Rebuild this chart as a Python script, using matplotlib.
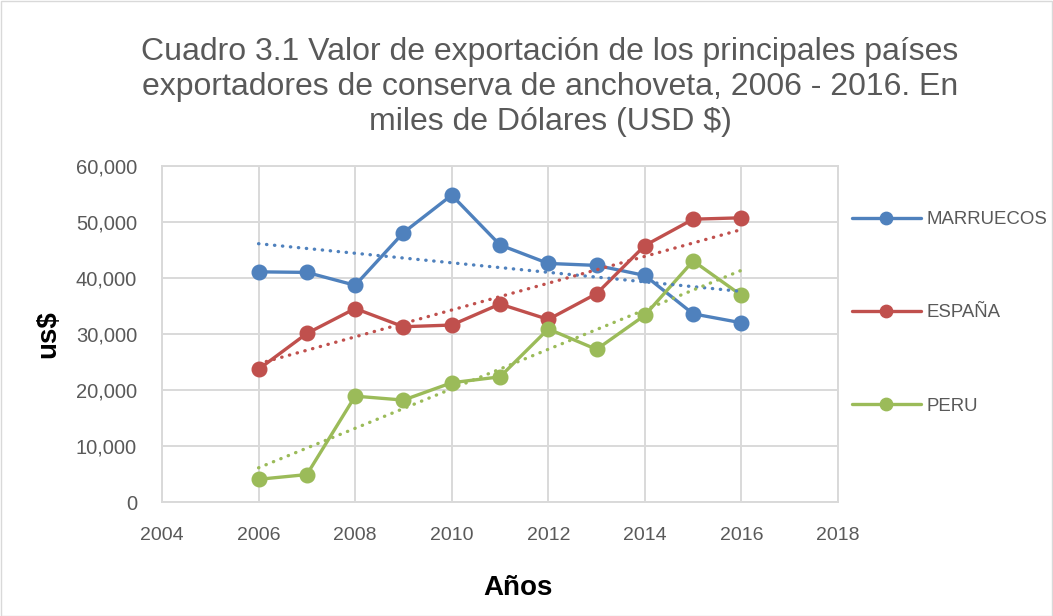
import numpy as np
import matplotlib.pyplot as plt
from matplotlib.patches import Rectangle

# --- data (miles de USD) ---
years = [2006, 2007, 2008, 2009, 2010, 2011, 2012, 2013, 2014, 2015, 2016]
marruecos = [41100, 41000, 38700, 48100, 54800, 45900, 42600, 42250, 40450, 33600, 32000]
espana = [23700, 30100, 34550, 31300, 31600, 35350, 32600, 37200, 45800, 50500, 50750]
peru = [4050, 4900, 18900, 18200, 21300, 22350, 30900, 27250, 33350, 43050, 36900]

series = [
    ("MARRUECOS", marruecos, "#4F81BD"),
    ("ESPAÑA", espana, "#C0504D"),
    ("PERU", peru, "#9BBB59"),
]

x_ticks = [2004, 2006, 2008, 2010, 2012, 2014, 2016, 2018]
y_ticks = [0, 10000, 20000, 30000, 40000, 50000, 60000]

plt.rcParams['font.family'] = ['Liberation Sans', 'DejaVu Sans']
text_col = '#595959'
grid_col = '#D9D9D9'

W, H = 1053, 616
fig = plt.figure(figsize=(W / 100, H / 100), dpi=100)
fig.patch.set_facecolor('white')
fig.add_artist(Rectangle((0.5 / W, 0.5 / H), 1 - 1.5 / W, 1 - 1.5 / H,
                         transform=fig.transFigure, fill=False,
                         edgecolor='#D9D9D9', linewidth=1.0))

# --- plot area (pixel box of the reference) ---
left, right, top, bottom = 162, 838, 166, 502
ax = fig.add_axes([left / W, (H - bottom) / H, (right - left) / W, (bottom - top) / H])

yrs = np.array(years, dtype=float)
for name, vals, col in series:
    ax.plot(years, vals, '-o', color=col, linewidth=2.4, markersize=10.5,
            label=name, zorder=3, solid_capstyle='round')
    # linear trendline, like Excel's
    m, b = np.polyfit(yrs, np.array(vals, dtype=float), 1)
    ax.plot(yrs, m * yrs + b, color=col, linewidth=2.4,
            linestyle=(0, (0.1, 2.3)), dash_capstyle='round', zorder=4)

ax.set_xlim(2004, 2018)
ax.set_ylim(0, 60000)
ax.set_xticks(x_ticks)
ax.set_yticks(y_ticks)
ax.set_yticklabels([f"{v:,}" for v in y_ticks])
ax.grid(True, color=grid_col, linewidth=1.4, zorder=0)
ax.set_axisbelow(True)
for s in ax.spines.values():
    s.set_color(grid_col)
    s.set_linewidth(1.4)
ax.tick_params(length=0, labelcolor=text_col)
ax.tick_params(axis='y', pad=18, labelsize=14.5)
ax.tick_params(axis='x', pad=18, labelsize=14)

# --- axis titles ---
fig.text(518 / W, 1 - 588 / H, 'Años', ha='center', va='center',
         fontsize=20, fontweight='bold', color='black')
fig.text(48.5 / W, 1 - 334 / H, 'us$', ha='center', va='center', rotation=90,
         fontsize=20, fontweight='bold', color='black')

fig.text(550 / W, 1 - 87 / H,
         "Cuadro 3.1 Valor de exportación de los principales países\n"
         "exportadores de conserva de anchoveta, 2006 - 2016. En\n"
         "miles de Dólares (USD $)",
         ha='center', va='center', fontsize=23, color=text_col, linespacing=1.2)

handles, labels = ax.get_legend_handles_labels()
leg = fig.legend(handles, labels, loc='upper left', bbox_to_anchor=(852 / W, 1 - 211 / H),
                 frameon=False, fontsize=13.4, handlelength=3.7, handletextpad=0.32,
                 labelspacing=4.1, markerscale=0.85, borderaxespad=0, borderpad=0)
for t in leg.get_texts():
    t.set_color(text_col)

fig.savefig('out.png', dpi=100)
